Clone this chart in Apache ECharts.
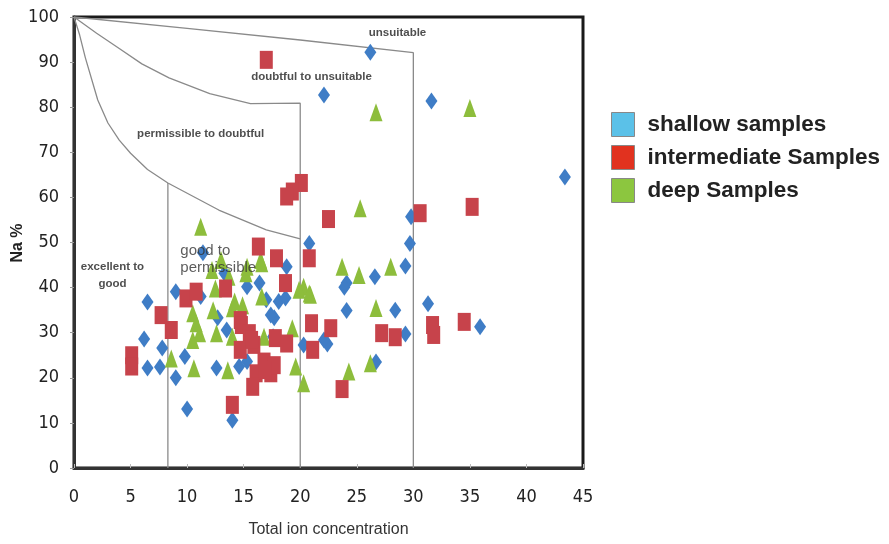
<!DOCTYPE html>
<html><head><meta charset="utf-8">
<script src="https://cdn.jsdelivr.net/npm/echarts@6/dist/echarts.min.js"></script>
<style>html,body{margin:0;padding:0;background:#fff}#c{width:889px;height:544px}</style>
</head><body><div id="c"></div>
<script>
const xTicks = [0,5,10,15,20,25,30,35,40,45];
const yTicks = [0,10,20,30,40,50,60,70,80,90,100];
const seriesNames = ['shallow samples','intermediate Samples','deep Samples'];

const shallow = [[26.2,92.2],[22.1,82.7],[31.6,81.4],[43.4,64.5],[29.8,55.7],[29.7,49.8],[29.3,44.8],[26.6,42.4],[24.1,41.0],[23.9,40.1],[24.1,34.9],[28.4,35.0],[31.3,36.4],[29.3,29.7],[35.9,31.3],[26.7,23.5],[20.3,27.3],[22.4,27.5],[22.1,28.4],[20.8,49.8],
[6.5,36.8],[6.2,28.6],[7.8,26.6],[6.5,22.2],[7.6,22.4],[9.0,39.1],[9.8,24.7],[9.0,20.0],[10.0,13.1],[11.4,47.7],[11.2,38.0],[12.6,22.2],[13.3,43.2],[12.7,33.3],[13.5,30.6],[15.3,40.2],[16.4,41.0],[17.0,37.3],[14.6,22.5],[15.3,23.6],[14.0,10.6],[17.7,33.3],[18.1,36.9],[18.7,37.7],[18.8,44.6],[17.6,29.1],[17.4,33.9]];

const intermediate = [[17.0,90.5],[20.1,63.2],[19.3,61.3],[18.8,60.2],[22.5,55.2],[30.6,56.5],[35.2,57.9],[20.8,46.5],[21.0,32.1],[21.1,26.2],[22.7,31.0],[27.2,29.9],[28.4,29.0],[31.7,31.7],[31.8,29.5],[34.5,32.4],[23.7,17.5],[5.1,25.0],[5.1,22.5],[7.7,33.9],[8.6,30.6],[9.9,37.6],[10.8,39.1],[13.4,39.8],[16.3,49.1],[17.9,46.5],[18.7,41.0],[14.7,32.8],[14.8,31.7],[15.5,29.9],[14.7,26.2],[15.9,27.3],[17.8,28.8],[18.8,27.6],[16.8,23.6],[17.4,21.0],[16.1,21.0],[15.8,18.0],[14.0,14.0],[17.7,22.8],[15.7,28.4],[16.9,21.7]];

const deep = [[26.7,78.9],[35.0,79.8],[25.3,57.6],[11.2,53.5],[23.7,44.6],[25.2,42.8],[28.0,44.6],[26.7,35.5],[20.3,40.2],[20.9,38.4],[24.3,21.4],[26.2,23.2],[20.3,18.8],[19.9,39.5],[12.2,43.9],[13.7,42.4],[15.2,43.2],[12.5,39.8],[16.6,38.0],[12.3,35.0],[14.0,35.4],[14.9,36.1],[10.5,34.3],[10.8,32.1],[11.1,29.9],[10.5,28.4],[12.6,29.9],[14.0,29.1],[8.6,24.3],[10.6,22.1],[13.6,21.7],[16.8,29.1],[19.3,31.0],[19.6,22.5],[20.8,38.7],[16.5,46.1],[13.0,46.1],[15.3,44.6],[16.6,45.4],[14.2,36.9]];

// Wilcox boundary lines
const boundaryGood = [[8.3,0],[8.3,63.2]];
const curveLower = [[0,100],[0.5,96],[1,91],[2.1,81.6],[3,76.5],[4,72.7],[5,69.8],[6.5,66.2],[8.3,63.2],[12.8,57.2],[17,52.8],[20,50.8]];
const curveMiddle = [[0,100],[2,96.4],[4,93],[6,89.6],[8.4,86.5],[12,83],[15.6,80.8],[20,80.9],[20,0]];
const curveUpper = [[0,100],[10,97.5],[20,94.9],[30,92.1],[30,0]];

const regionLabels = [[28.6,96.5,'unsuitable'],[21.0,86.7,'doubtful to unsuitable'],[11.2,74.1,'permissible to doubtful'],[3.4,42.8,'excellent to\ngood']];
const regionLabelPlain = [[9.4,46.3,'good to\npermissible']];
const yAxisTitle = 'Na %';

const markerColors = ['#3f7dc6','#c7434b','#8dbd3c'];
const legendColors = ['#5bc1e8','#e1321f','#8cc63f'];

const lineStyle = {color:'#8a8a8a', width:1.3};
function lineSeries(d){return {type:'line',data:d,symbol:'none',silent:true,lineStyle:lineStyle,z:1,animation:false};}

const tickFont = 'DejaVu Sans Condensed, Liberation Sans Narrow, Liberation Sans';

const chart = echarts.init(document.getElementById('c'));
chart.setOption({
  animation:false,
  backgroundColor:'#fff',
  grid:{left:74,right:306,top:17,bottom:76,show:true,borderColor:'#1a1a1a',borderWidth:3,outerBoundsMode:'none',containLabel:false},
  graphic:[{type:'text',x:18,y:243,rotation:Math.PI/2,silent:true,
    style:{text:yAxisTitle,fontFamily:'Liberation Sans, Arial',fontWeight:'bold',fontSize:16,fill:'#222',textAlign:'center',textVerticalAlign:'middle'}}],
  legend:{
    orient:'vertical',left:606,top:107,itemWidth:23,itemHeight:24,itemGap:8,
    textStyle:{fontFamily:'Liberation Sans, Arial',fontWeight:'bold',fontSize:22.5,color:'#222',padding:[0,0,0,8]},
    data:seriesNames.map((n,i)=>({name:n,icon:'rect',itemStyle:{color:legendColors[i],borderColor:'#888',borderWidth:1}}))
  },
  xAxis:{type:'value',min:0,max:45,interval:5,
    name:'Total ion concentration',nameLocation:'middle',nameGap:54,
    nameTextStyle:{fontFamily:'Liberation Sans, Arial',fontSize:16,color:'#333'},
    axisLine:{lineStyle:{color:'#333',width:3}},
    axisTick:{inside:true,length:4,lineStyle:{color:'#bbb'}},
    axisLabel:{fontFamily:tickFont,fontSize:18,color:'#222',margin:20},
    splitLine:{show:false}},
  yAxis:{type:'value',min:0,max:100,interval:10,
    axisLine:{lineStyle:{color:'#333',width:3}},
    axisTick:{length:4,lineStyle:{color:'#999'}},
    axisLabel:{fontFamily:tickFont,fontSize:18,color:'#222',margin:15},
    splitLine:{show:false}},
  series:[
    lineSeries(boundaryGood),lineSeries(curveLower),lineSeries(curveMiddle),lineSeries(curveUpper),
    {type:'scatter',data:regionLabels,symbolSize:0,silent:true,z:3,
      label:{show:true,position:'inside',formatter:p=>p.data[2],fontFamily:'Liberation Sans, Arial',fontWeight:'bold',fontSize:11.5,color:'#222',lineHeight:17,align:'center'}},
    {type:'scatter',data:regionLabelPlain,symbolSize:0,silent:true,z:6,
      label:{show:true,position:'right',distance:0,formatter:p=>p.data[2],fontFamily:'Liberation Sans, Arial',fontSize:15,color:'#333',lineHeight:17,align:'left'}},
    {name:seriesNames[0],type:'scatter',data:shallow,symbol:'diamond',symbolSize:[12,17],itemStyle:{color:markerColors[0],opacity:1},z:4},
    {name:seriesNames[1],type:'scatter',data:intermediate,symbol:'rect',symbolSize:[13,18],itemStyle:{color:markerColors[1],opacity:1},z:5},
    {name:seriesNames[2],type:'scatter',data:deep,symbol:'triangle',symbolSize:[13,18],itemStyle:{color:markerColors[2],opacity:1},z:4}
  ]
});
</script></body></html>
